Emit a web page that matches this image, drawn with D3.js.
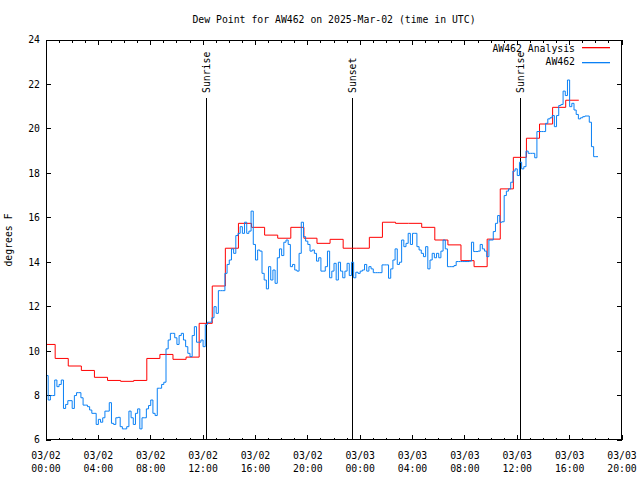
<!DOCTYPE html>
<html><head><meta charset="utf-8">
<script src="https://cdn.jsdelivr.net/npm/d3@7/dist/d3.min.js"></script>
<style>
html,body{margin:0;padding:0;background:#fff;}
svg text{font-family:"DejaVu Sans Mono","Liberation Mono",monospace;font-size:9.8px;fill:#000;}
</style></head>
<body><svg id="chart" width="640" height="480"></svg>
<script>
// ---- data ----
const chartTitle = "Dew Point for AW462 on 2025-Mar-02 (time in UTC)";
const yLabel = "degrees F";
const xStart = "2025-03-02T00:00:00Z";
const xEnd = "2025-03-03T20:00:00Z";
const yTicks = [6, 8, 10, 12, 14, 16, 18, 20, 22, 24];
const seriesNames = ["AW462 Analysis", "AW462"];
// analysis: hourly steps, first valid 2025-03-01 23:42 UTC
const analysisStart = "2025-03-01T23:42:00Z";
const analysisValues = [10.3, 9.67, 9.33, 9.13, 8.82, 8.68, 8.64, 8.68, 9.67, 9.85,
  9.63, 9.73, 11.25, 12.93, 14.63, 15.75, 15.57, 15.22, 15.08, 15.57,
  15.08, 14.85, 15.03, 14.63, 14.63, 15.12, 15.8, 15.75, 15.75, 15.57,
  15.0, 14.78, 14.07, 13.8, 15.04, 17.3, 18.72, 19.58, 20.22, 20.97, 21.29];
// observations: every 10 minutes from 2025-03-02 00:00 UTC
const obsStart = "2025-03-02T00:00:00Z";
const obsValues = [
  8.9, 7.8, 8.0, 8.0, 8.7, 8.4, 8.5, 8.7, 7.42, 7.6, 7.77, 7.77,
  7.42, 8.0, 8.13, 8.13, 7.9, 7.57, 7.57, 7.5, 7.35, 7.2, 7.2, 6.7,
  6.93, 6.8, 7.0, 7.3, 7.3, 7.68, 6.75, 6.7, 7.0, 7.02, 6.6, 6.5,
  6.5, 6.6, 7.3, 7.0, 6.7, 7.2, 7.4, 6.5, 7.0, 7.0, 7.4, 7.55,
  7.8, 7.2, 7.1, 8.33, 8.33, 8.5, 8.6, 10.1, 10.5, 10.8, 10.8, 10.6,
  10.3, 10.7, 10.8, 10.5, 10.2, 9.9, 9.75, 10.7, 11.1, 10.4, 10.4, 10.5,
  10.2, 11.2, 11.3, 11.3, 11.5, 12.0, 11.7, 12.72, 12.72, 12.72, 13.5, 13.9,
  14.1, 14.6, 14.4, 15.2, 15.3, 15.6, 15.3, 15.8, 15.3, 15.4, 16.3, 14.8,
  14.1, 14.55, 14.5, 13.5, 13.2, 12.8, 13.8, 13.2, 13.65, 13.05, 14.2, 14.6,
  14.3, 14.9, 15.0, 14.8, 13.8, 13.9, 13.65, 13.6, 14.4, 15.8, 15.15, 14.95,
  14.8, 14.5, 14.55, 14.4, 14.05, 14.2, 13.6, 13.6, 13.8, 14.5, 13.3, 13.6,
  13.95, 13.2, 14.0, 13.6, 13.3, 13.6, 13.95, 13.4, 14.0, 13.3, 13.55, 13.5,
  13.6, 13.65, 13.9, 13.6, 13.8, 13.7, 13.53, 13.53, 13.53, 13.53, 13.88, 13.88,
  13.88, 13.28, 13.7, 14.1, 14.6, 13.9, 14.0, 15.0, 14.7, 14.85, 15.3, 14.8,
  15.3, 15.3, 14.7, 14.55, 14.4, 14.25, 14.7, 13.7, 14.1, 14.4, 14.2, 14.4,
  14.2, 14.5, 15.0, 14.6, 13.8, 13.8, 13.8, 13.85, 14.03, 14.03, 14.03, 14.03,
  14.03, 14.03, 14.05, 14.9, 14.48, 14.48, 14.5, 14.8, 14.6, 14.5, 14.25, 15.0,
  15.0, 15.38, 15.75, 16.1, 15.8, 15.82, 17.0, 17.2, 17.3, 17.6, 18.1, 18.2,
  17.9, 18.5, 18.2, 18.3, 19.0, 18.9, 18.9, 18.9, 18.7, 19.88, 19.88, 19.88,
  19.88, 20.25, 20.45, 20.5, 20.6, 20.1, 20.6, 21.05, 21.1, 21.7, 21.5, 22.2,
  21.0, 21.15, 20.85, 20.65, 20.45, 20.5, 20.55, 20.58, 20.58, 20.3, 19.2, 18.75,
  18.75, 18.75];
const eventNames = ["Sunrise", "Sunset", "Sunrise"];
const eventTimes = ["2025-03-02T12:13:00Z", "2025-03-02T23:24:00Z", "2025-03-03T12:13:00Z"];

// ---- layout ----
const svg = d3.select("#chart");
const L = 46, R = 622, T = 40, B = 440;
const x = d3.scaleUtc().domain([new Date(xStart), new Date(xEnd)]).range([L, R]);
const y = d3.scaleLinear().domain([6, 24]).range([B, T]);
const colors = ["#ff0000", "#0a80f5"];

const analysis = analysisValues.map((v, i) => ({t: d3.utcHour.offset(new Date(analysisStart), i), v}));
analysis.push({t: d3.utcHour.offset(new Date(analysisStart), analysisValues.length), v: analysisValues[analysisValues.length - 1]});
const obs = obsValues.map((v, i) => ({t: d3.utcMinute.offset(new Date(obsStart), i * 10), v}));

svg.append("defs").append("clipPath").attr("id", "clip")
  .append("rect").attr("x", L).attr("y", T).attr("width", R - L).attr("height", B - T);

// title
svg.append("text").attr("x", (L + R) / 2).attr("y", 23).attr("text-anchor", "middle").text(chartTitle);
// y label
svg.append("text").attr("transform", "translate(12,240) rotate(-90)").attr("text-anchor", "middle").text(yLabel);

// axes
const majorTicks = d3.utcHour.every(4).range(x.domain()[0], d3.utcMinute.offset(x.domain()[1], 1));
const minorTicks = d3.utcHour.every(1).range(x.domain()[0], d3.utcMinute.offset(x.domain()[1], 1));
const fmt1 = d3.utcFormat("%m/%d"), fmt2 = d3.utcFormat("%H:%M");

const bottom = svg.append("g").attr("transform", `translate(0,${B})`)
  .call(d3.axisBottom(x).tickValues(majorTicks).tickSize(0).tickFormat(""));
bottom.select(".domain").remove();
const gx = svg.append("g");
minorTicks.forEach(t => {
  const isMajor = t.getUTCHours() % 4 === 0;
  const len = isMajor ? 5 : 2.5;
  gx.append("line").attr("x1", x(t)).attr("x2", x(t)).attr("y1", B).attr("y2", B - len).attr("stroke", "#000").attr("shape-rendering", "crispEdges");
  gx.append("line").attr("x1", x(t)).attr("x2", x(t)).attr("y1", T).attr("y2", T + len).attr("stroke", "#000").attr("shape-rendering", "crispEdges");
});
majorTicks.forEach(t => {
  gx.append("text").attr("x", x(t)).attr("y", 459).attr("text-anchor", "middle").text(fmt1(t));
  gx.append("text").attr("x", x(t)).attr("y", 472).attr("text-anchor", "middle").text(fmt2(t));
});
const gy = svg.append("g");
yTicks.forEach(v => {
  gy.append("line").attr("x1", L).attr("x2", L + 5).attr("y1", y(v)).attr("y2", y(v)).attr("stroke", "#000").attr("shape-rendering", "crispEdges");
  gy.append("line").attr("x1", R - 5).attr("x2", R).attr("y1", y(v)).attr("y2", y(v)).attr("stroke", "#000").attr("shape-rendering", "crispEdges");
  gy.append("text").attr("x", 40).attr("y", y(v)).attr("dy", "0.35em").attr("text-anchor", "end").text(v);
});

// event lines
eventTimes.forEach((s, i) => {
  const xe = Math.round(x(new Date(s))) + 0.5;
  svg.append("line").attr("x1", xe).attr("x2", xe).attr("y1", 98).attr("y2", B).attr("stroke", "#000");
  svg.append("text").attr("transform", `translate(${xe + 3},93) rotate(-90)`).text(eventNames[i]);
});

// series
const line = d3.line().x(d => x(d.t)).y(d => y(d.v)).curve(d3.curveStepAfter);
const plot = svg.append("g").attr("clip-path", "url(#clip)");
plot.append("path").datum(analysis).attr("d", line).attr("fill", "none").attr("stroke", colors[0]).attr("stroke-width", 1);
plot.append("path").datum(obs).attr("d", line).attr("fill", "none").attr("stroke", colors[1]).attr("stroke-width", 1);

// border
svg.append("rect").attr("x", L + 0.5).attr("y", T + 0.5).attr("width", R - L - 1).attr("height", B - T - 1)
  .attr("fill", "none").attr("stroke", "#000");

// legend
const legendRows = [{ty: 49, ly: 47}, {ty: 62, ly: 62}];
seriesNames.forEach((n, i) => {
  svg.append("text").attr("x", 575).attr("y", legendRows[i].ty).attr("dy", "0.35em").attr("text-anchor", "end").text(n);
  svg.append("rect").attr("x", 582).attr("y", legendRows[i].ly).attr("width", 28).attr("height", 1.3)
    .attr("fill", colors[i]);
});
</script></body></html>
